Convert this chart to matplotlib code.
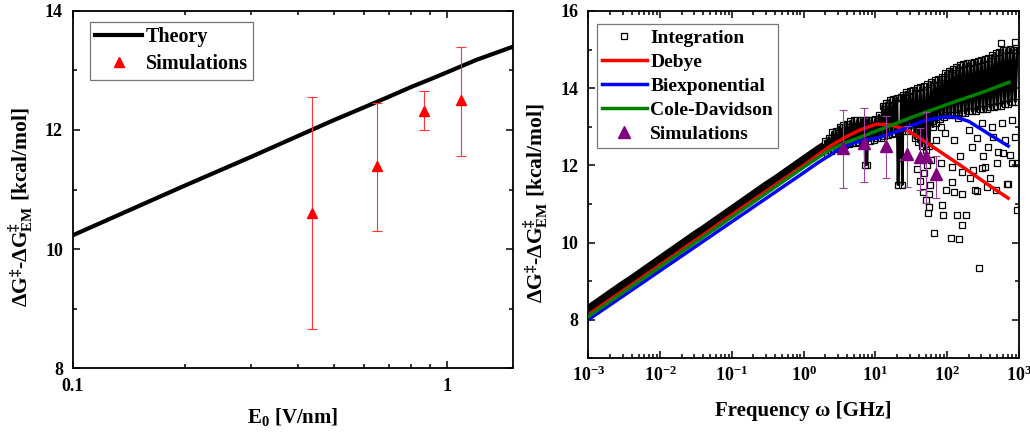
import numpy as np
import matplotlib

matplotlib.use("Agg")
import matplotlib.pyplot as plt
from matplotlib.ticker import LogLocator, MultipleLocator, NullFormatter, FixedLocator

# ---- left panel: barrier vs field amplitude ----
theory_E = [0.1, 0.2, 0.3, 0.4, 0.5, 0.6, 0.7, 0.8, 0.9, 1.0, 1.2, 1.5]
theory_dG = [10.23, 11.07, 11.55, 11.9, 12.17, 12.38, 12.56, 12.72, 12.85, 12.97, 13.18, 13.4]

sim_E = [0.435, 0.652, 0.868, 1.088]
sim_dG = [10.6, 11.4, 12.32, 12.5]
sim_lo = [8.65, 10.3, 12.0, 11.57]
sim_hi = [12.55, 12.45, 12.65, 13.4]

# ---- right panel: barrier vs frequency (log10 GHz) ----
debye_logf = [-3, -2, -1, 0, 0.37, 0.6, 0.8, 1.02, 1.2, 1.3, 1.43, 1.6, 1.8, 2.0, 2.2, 2.4, 2.6, 2.85]
debye_dG = [8.13, 9.42, 10.72, 12.0, 12.5, 12.75, 12.93, 13.07, 13.05, 13.0, 12.92, 12.73, 12.48,
            12.23, 11.98, 11.72, 11.46, 11.15]

biexp_logf = [-3, -2, -1, 0, 0.2, 0.37, 0.5, 0.7, 0.83, 1.0, 1.15, 1.29, 1.41, 1.5, 1.7, 1.94,
              2.1, 2.3, 2.48, 2.65, 2.85]
biexp_dG = [8.0, 9.27, 10.54, 11.81, 12.07, 12.27, 12.43, 12.58, 12.65, 12.7, 12.78, 12.87, 12.95,
            13.03, 13.17, 13.25, 13.26, 13.14, 12.93, 12.73, 12.5]

cd_logf = [-3, -2, -1, 0, 0.2, 0.35, 0.5, 0.7, 1.0, 1.5, 2.0, 2.5, 2.86]
cd_dG = [8.08, 9.37, 10.66, 11.95, 12.2, 12.38, 12.52, 12.67, 12.88, 13.24, 13.58, 13.9, 14.15]

simw_f = [3.5, 6.9, 14.0, 27.6, 41.7, 50.0, 69.0]
simw_dG = [12.46, 12.57, 12.5, 12.29, 12.21, 12.24, 11.78]
simw_lo = [11.41, 11.58, 11.68, 11.45, 11.36, 11.03, 11.15]
simw_hi = [13.43, 13.48, 13.28, 13.02, 12.96, 13.39, 12.23]

# numerical integration: smooth low-frequency part
integ_low_logf = [-3.0, -2.9, -2.8, -2.7, -2.6, -2.5, -2.4, -2.3, -2.2, -2.1, -2.0, -1.9, -1.8,
                  -1.7, -1.6, -1.5, -1.4, -1.3, -1.2, -1.1, -1.0, -0.9, -0.8, -0.7, -0.6, -0.5,
                  -0.4, -0.3, -0.2, -0.1, 0.0, 0.1, 0.2, 0.3]
integ_low_dG = [8.23, 8.36, 8.49, 8.62, 8.75, 8.88, 9.0, 9.13, 9.26, 9.39, 9.52, 9.65, 9.78,
                9.91, 10.04, 10.17, 10.29, 10.42, 10.55, 10.68, 10.81, 10.94, 11.07, 11.2, 11.33,
                11.46, 11.58, 11.71, 11.84, 11.97, 12.1, 12.23, 12.36, 12.48]

# numerical integration: oscillating part (consecutive points jump up and down)
integ_osc_logf = [0.3, 0.325, 0.35, 0.375, 0.4, 0.425, 0.45, 0.475, 0.5, 0.525, 0.55, 0.575,
                  0.6, 0.625, 0.65, 0.675, 0.7, 0.725, 0.75, 0.775, 0.8, 0.825, 0.85, 0.86,
                  0.87, 0.88, 0.9, 0.925, 0.95, 0.975, 1.0, 1.025, 1.05, 1.075, 1.1, 1.125,
                  1.15, 1.175, 1.2, 1.225, 1.25, 1.275, 1.3, 1.315, 1.33, 1.345, 1.36, 1.375,
                  1.385, 1.4, 1.425, 1.45, 1.475, 1.5, 1.525, 1.55, 1.575, 1.6, 1.625, 1.65,
                  1.675, 1.7, 1.725, 1.75, 1.775, 1.8, 1.825, 1.85, 1.875, 1.9, 1.925, 1.95,
                  1.975, 2.0, 2.025, 2.05, 2.075, 2.1, 2.125, 2.15, 2.175, 2.2, 2.225, 2.25,
                  2.275, 2.3, 2.325, 2.35, 2.375, 2.4, 2.425, 2.45, 2.475, 2.5, 2.525, 2.55,
                  2.575, 2.6, 2.625, 2.65, 2.675, 2.7, 2.725, 2.75, 2.775, 2.8, 2.825, 2.85,
                  2.875, 2.9, 2.925, 2.95, 2.975]
integ_osc_dG = [12.62, 12.32, 12.72, 12.37, 12.86, 12.42, 12.9, 12.46, 13.0, 12.5, 13.04, 12.53,
                13.08, 12.55, 13.14, 12.57, 13.18, 12.58, 13.18, 12.6, 13.18, 12.6, 13.18, 12.0,
                13.18, 12.02, 13.18, 12.64, 13.18, 12.66, 13.2, 12.7, 13.3, 12.72, 13.55, 12.75,
                13.62, 12.78, 13.7, 12.8, 13.72, 12.85, 13.75, 11.5, 13.0, 12.2, 13.78, 11.5,
                13.82, 12.9, 13.9, 12.9, 13.92, 12.95, 13.94, 12.7, 14.0, 12.6, 14.02, 12.5,
                14.05, 12.4, 14.1, 12.5, 14.15, 13.0, 14.2, 13.1, 14.25, 13.2, 14.3, 13.25,
                14.4, 13.3, 14.45, 13.3, 14.5, 13.3, 14.55, 13.35, 14.6, 13.35, 14.62, 13.35,
                14.64, 13.4, 14.65, 13.4, 14.68, 13.4, 14.7, 13.45, 14.72, 13.45, 14.75, 13.45,
                14.78, 13.5, 14.85, 13.5, 14.9, 13.55, 14.95, 13.55, 15.0, 13.6, 15.0, 13.6,
                15.02, 13.65, 15.0, 13.65, 15.0]

# numerical integration: scattered points below the dense band
integ_sc_logf = [1.58, 1.62, 1.66, 1.68, 1.70, 1.72, 1.73, 1.74, 1.75, 1.76, 1.78, 1.81, 1.85,
                 1.92, 1.92, 1.93, 1.94, 1.97, 1.98, 2.05, 2.06, 2.07, 2.09, 2.1, 2.13, 2.15,
                 2.16, 2.18, 2.2, 2.2, 2.21, 2.26, 2.3, 2.32, 2.34, 2.36, 2.39, 2.41, 2.41,
                 2.44, 2.48, 2.48, 2.5, 2.52, 2.55, 2.57, 2.6, 2.62, 2.64, 2.68, 2.7, 2.71,
                 2.75, 2.76, 2.78, 2.8, 2.83, 2.85, 2.87, 2.9, 2.9, 2.94, 2.95, 2.97, 2.97]
integ_sc_dG = [11.9, 11.6, 11.3, 11.8, 11.1, 12.0, 10.76, 10.93, 11.26, 11.5, 12.14, 10.24, 12.66,
               12.05, 13.0, 10.97, 10.71, 12.83, 11.36, 10.12, 11.97, 11.58, 11.32, 12.66, 10.72,
               13.22, 10.08, 12.23, 10.46, 11.84, 11.27, 10.72, 12.92, 11.67, 12.48, 11.88,
               11.36, 11.34, 12.7, 9.34, 11.92, 13.09, 12.23, 11.97, 11.45, 12.48, 11.67, 13.0,
               12.74, 11.36, 12.05, 12.35, 15.16, 13.09, 12.31, 12.66, 11.52, 11.52, 12.27,
               12.05, 13.18, 12.74, 15.2, 10.84, 12.06]

plt.rcParams["font.family"] = ["Liberation Serif", "DejaVu Serif"]
plt.rcParams["font.weight"] = "bold"
plt.rcParams["axes.labelweight"] = "bold"
plt.rcParams["mathtext.fontset"] = "custom"
plt.rcParams["mathtext.rm"] = "Liberation Serif:bold"
plt.rcParams["mathtext.it"] = "Liberation Serif:italic:bold"
plt.rcParams["mathtext.bf"] = "Liberation Serif:bold"
plt.rcParams["mathtext.default"] = "rm"
plt.rcParams["axes.linewidth"] = 1.3

fig = plt.figure(figsize=(10.30, 4.34), dpi=100)
ax1 = fig.add_axes([0.0706, 0.152, 0.4274, 0.8227])
ax2 = fig.add_axes([0.5712, 0.1744, 0.4181, 0.8003])

ylab = "Δ$G^{‡}$-Δ$G^{‡}_{EM}$ [kcal/mol]"


def style_ticks(ax):
    ax.tick_params(which="both", direction="in", top=True, right=True, labelsize=13, width=1.1)
    ax.tick_params(which="major", length=5)
    ax.tick_params(which="minor", length=3)


# left
ax1.plot(theory_E, theory_dG, color="black", lw=3, label="Theory")
yerr = [np.array(sim_dG) - np.array(sim_lo), np.array(sim_hi) - np.array(sim_dG)]
ax1.errorbar(sim_E, sim_dG, yerr=yerr, fmt="none", elinewidth=0.8,
             capsize=3.5, capthick=0.8, ecolor=(1, 0.2, 0.2))
ax1.plot(sim_E, sim_dG, "^", color="red", ms=7, label="Simulations")
ax1.set_xscale("log")
ax1.set_xlim(0.1, 1.5)
ax1.set_ylim(8, 14)
ax1.xaxis.set_major_locator(FixedLocator([0.1, 1]))
ax1.xaxis.set_major_formatter(plt.FixedFormatter(["0.1", "1"]))
ax1.xaxis.set_minor_locator(LogLocator(base=10, subs=np.arange(2, 10)))
ax1.xaxis.set_minor_formatter(NullFormatter())
ax1.yaxis.set_major_locator(MultipleLocator(2))
ax1.yaxis.set_minor_locator(MultipleLocator(1))
style_ticks(ax1)
ax1.tick_params(axis="x", which="major", pad=7)
ax1.tick_params(axis="y", which="major", pad=7)
ax1.set_xlabel("E$_0$ [V/nm]", fontsize=15, labelpad=8)
ax1.set_ylabel(ylab, fontsize=15.5)
ax1.yaxis.set_label_coords(-0.085, 0.45)
h, l = ax1.get_legend_handles_labels()
leg1 = ax1.legend(h, l, loc="upper left", bbox_to_anchor=(0.04, 0.968), fontsize=14.5,
                  frameon=True, fancybox=False, edgecolor="#555555", handlelength=2.3,
                  handletextpad=0.2, borderpad=0.25, labelspacing=0.35, borderaxespad=0)
leg1.get_frame().set_linewidth(0.9)

# right
ax2.plot(10 ** np.array(integ_low_logf), integ_low_dG, color="black", lw=8,
         solid_capstyle="butt", zorder=1)
ax2.plot(10 ** np.array(integ_low_logf), integ_low_dG, "s", ms=5, mfc="none", mec="black",
         mew=0.9, zorder=1)
ax2.plot(10 ** np.array(integ_osc_logf), integ_osc_dG, color="black", lw=2.0, zorder=1)
ax2.plot(10 ** np.array(integ_osc_logf), integ_osc_dG, "s", ms=5, mfc="none", mec="black",
         mew=0.9, zorder=1)
ax2.plot(10 ** np.array(integ_sc_logf), integ_sc_dG, "s", ms=5, mfc="none", mec="black",
         mew=0.9, zorder=1, label="Integration")
ax2.plot(10 ** np.array(debye_logf), debye_dG, color="red", lw=2.5, label="Debye", zorder=2)
ax2.plot(10 ** np.array(biexp_logf), biexp_dG, color="blue", lw=2.5, label="Biexponential",
         zorder=2)
ax2.plot(10 ** np.array(cd_logf), cd_dG, color="green", lw=2.5, label="Cole-Davidson", zorder=3)
yerr2 = [np.array(simw_dG) - np.array(simw_lo), np.array(simw_hi) - np.array(simw_dG)]
ax2.errorbar(simw_f, simw_dG, yerr=yerr2, fmt="none", elinewidth=0.8,
             capsize=3, capthick=0.8, ecolor="#a040a0", zorder=4)
ax2.plot(simw_f, simw_dG, "^", color="purple", ms=8, label="Simulations", zorder=4)
ax2.set_xscale("log")
ax2.set_xlim(1e-3, 1e3)
ax2.set_ylim(7, 16)
ax2.xaxis.set_major_locator(LogLocator(base=10, numticks=10))
ax2.xaxis.set_minor_locator(LogLocator(base=10, subs=np.arange(2, 10), numticks=20))
ax2.xaxis.set_minor_formatter(NullFormatter())
ax2.yaxis.set_major_locator(FixedLocator([8, 10, 12, 14, 16]))
ax2.yaxis.set_minor_locator(MultipleLocator(1))
style_ticks(ax2)
ax2.tick_params(axis="x", which="major", pad=5)
ax2.tick_params(axis="y", which="major", pad=7)
ax2.set_xlabel("Frequency ω [GHz]", fontsize=15, labelpad=12)
ax2.set_ylabel(ylab, fontsize=15.5)
ax2.yaxis.set_label_coords(-0.089, 0.447)
h, l = ax2.get_legend_handles_labels()
leg2 = ax2.legend(h, l, loc="upper left", bbox_to_anchor=(0.02, 0.962), fontsize=14,
                  frameon=True, fancybox=False, edgecolor="#555555", handlelength=2.3,
                  handletextpad=0.2, borderpad=0.25, labelspacing=0.33, borderaxespad=0)
leg2.get_frame().set_linewidth(0.9)

fig.savefig("out.png", dpi=100)
